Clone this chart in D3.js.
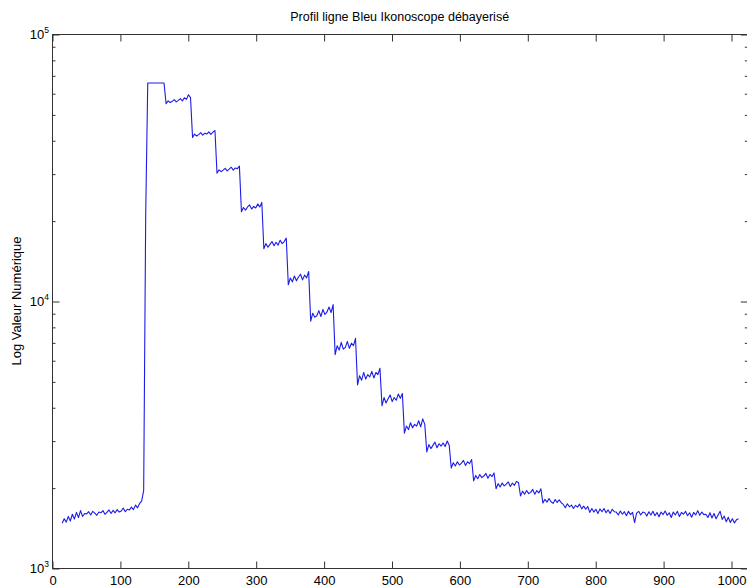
<!DOCTYPE html>
<html>
<head>
<meta charset="utf-8">
<script src="https://cdn.jsdelivr.net/npm/d3@7"></script>
<style>
  body { margin: 0; background: #fff; }
  svg { display: block; }
  text { font-family: "Liberation Sans", Arial, Helvetica, sans-serif; fill: #000; }
</style>
</head>
<body>
<svg id="chart" width="747" height="586"></svg>
<script>
// Texts
const titleText = "Profil ligne Bleu Ikonoscope débayerisé";
const yLabelText = "Log Valeur Numérique";

// Tick values
const xTicks = [0, 100, 200, 300, 400, 500, 600, 700, 800, 900, 1000];
const yMajor = [1e3, 1e4, 1e5];
const yMinor = [2e3, 3e3, 4e3, 5e3, 6e3, 7e3, 8e3, 9e3, 2e4, 3e4, 4e4, 5e4, 6e4, 7e4, 8e4, 9e4];
const yExponents = ["3", "4", "5"];

// Blue-channel line profile, one sample every 3 pixels starting at pixel 15
const profileStart = 15;
const profileStep = 3;
const blueProfile = [
  // dark level before the grey wedge (15 .. 132)
  1470, 1530, 1485, 1560, 1500, 1590, 1525, 1615, 1545, 1640,
  1560, 1600, 1595, 1625, 1580, 1630, 1605, 1575, 1620, 1610,
  1640, 1590, 1615, 1650, 1600, 1645, 1610, 1655, 1620, 1635,
  1675, 1625, 1660, 1650, 1690, 1655, 1720, 1680, 1745, 1780,
  // rising edge (135, 138)
  1950, 21000,
  // saturated patch (141 .. 165)
  65535, 65535, 65535, 65535, 65535, 65535, 65535, 65535, 65535,
  // patch 2 (168 .. 204)
  54800, 56200, 55400, 55900, 56800, 55700, 56400, 57300, 56200, 57700, 56900, 59200, 57800,
  // patch 3 (207 .. 240)
  41000, 42200, 41500, 42000, 42700, 41800, 42500, 42200, 43000, 42100, 42900, 43500,
  // patch 4 (243 .. 276)
  30100, 31000, 30500, 30900, 31400, 30700, 31200, 31700, 30900, 31500, 31300, 32000,
  // patch 5 (279 .. 309)
  21600, 22400, 21900, 22500, 22900, 22100, 22600, 22300, 23100, 22500, 23400,
  // patch 6 (312 .. 345)
  15700, 16400, 15900, 16300, 16700, 16100, 16600, 16200, 16900, 16400, 16700, 17200,
  // patch 7 (348 .. 378)
  11500, 12200, 11800, 12400, 11900, 12300, 12600, 12000, 12500, 12200, 12900,
  // patch 8 (381 .. 414)
  8400, 9000, 8700, 8800, 9200, 8750, 9300, 8900, 9100, 9500, 9050, 9700,
  // patch 9 (417 .. 447)
  6300, 6800, 6550, 7000, 6600, 6700, 7050, 6650, 6950, 6800, 7250,
  // patch 10 (450 .. 483)
  4850, 5250, 5050, 5400, 5100, 5300, 5200, 5450, 5150, 5400, 5300, 5600,
  // patch 11 (486 .. 516)
  4050, 4350, 4150, 4300, 4450, 4200, 4350, 4250, 4480, 4320, 4500,
  // patch 12 (519 .. 549)
  3200, 3400, 3300, 3500, 3350, 3450, 3400, 3560, 3380, 3620, 3450,
  // patch 13 (552 .. 585)
  2720, 2900, 2800, 2880, 2960, 2820, 2920, 2860, 2940, 2850, 2990, 2880,
  // patch 14 (588 .. 618)
  2370, 2480, 2410, 2500, 2430, 2470, 2530, 2420, 2500, 2460, 2550,
  // patch 15 (621 .. 651)
  2120, 2220, 2160, 2240, 2180, 2210, 2260, 2170, 2240, 2200, 2270,
  // patch 16 (654 .. 687)
  1980, 2070, 2010, 2080, 2030, 2060, 2100, 2020, 2080, 2040, 2110, 2090,
  // patch 17 (690 .. 720)
  1860, 1940, 1890, 1950, 1900, 1920, 1970, 1890, 1950, 1910, 1980,
  // tail (723 .. 1011)
  1750, 1810, 1765, 1820, 1770, 1745, 1805, 1760, 1800, 1755,
  1730, 1680, 1740, 1695, 1720, 1670, 1715, 1690, 1735, 1665, 1705, 1660, 1700,
  1615, 1670, 1620, 1660, 1600, 1665, 1625, 1670, 1610, 1650, 1600, 1660, 1625,
  1620, 1580, 1635, 1590, 1625, 1570, 1630, 1585, 1615, 1480, 1605, 1630, 1580, 1620,
  1610, 1565, 1625, 1580, 1630, 1570, 1615, 1555, 1620, 1585,
  1635, 1575, 1610, 1545, 1620, 1580, 1630, 1560, 1615, 1590,
  1630, 1570, 1610, 1550, 1615, 1580, 1640, 1575, 1620, 1585,
  1590, 1545, 1610, 1540, 1600, 1530, 1580, 1630, 1520, 1565,
  1490, 1550, 1480, 1530, 1475, 1515, 1530
];

const plot = { left: 52, right: 747.3, top: 34, bottom: 568 };

const svg = d3.select("#chart");

const x = d3.scaleLinear().domain([0, 1024]).range([plot.left, plot.right]);
const y = d3.scaleLog().domain([1e3, 1e5]).range([plot.bottom, plot.top]);

const axisColor = "#333";

// Frame
svg.append("rect")
  .attr("x", plot.left + 0.5).attr("y", plot.top + 0.5)
  .attr("width", plot.right - plot.left).attr("height", plot.bottom - plot.top)
  .attr("fill", "none").attr("stroke", axisColor).attr("stroke-width", 1);

function styleAxis(g) {
  g.select(".domain").remove();
  g.selectAll(".tick line").attr("stroke", axisColor).attr("stroke-width", 1);
  g.selectAll("text").attr("fill", "#000");
}

// Bottom axis with labels, ticks pointing inward
svg.append("g")
  .attr("transform", `translate(0.5,${plot.bottom + 0.5})`)
  .call(d3.axisBottom(x).tickValues(xTicks).tickSize(-7).tickPadding(7).tickFormat(d3.format("d")))
  .call(styleAxis)
  .call(g => g.selectAll("text").style("font-size", "13px"));

// Top axis, ticks only
svg.append("g")
  .attr("transform", `translate(0.5,${plot.top + 0.5})`)
  .call(d3.axisTop(x).tickValues(xTicks).tickSize(-7).tickFormat(""))
  .call(styleAxis);

// Left axis: major and minor ticks
svg.append("g")
  .attr("transform", `translate(${plot.left + 0.5},0.5)`)
  .call(d3.axisLeft(y).tickValues(yMajor).tickSize(-7).tickFormat(""))
  .call(styleAxis);
svg.append("g")
  .attr("transform", `translate(${plot.left + 0.5},0.5)`)
  .call(d3.axisLeft(y).tickValues(yMinor).tickSize(-3).tickFormat(""))
  .call(styleAxis);

// Right axis: major and minor ticks
svg.append("g")
  .attr("transform", `translate(${plot.right + 0.5},0.5)`)
  .call(d3.axisRight(y).tickValues(yMajor).tickSize(-7).tickFormat(""))
  .call(styleAxis);
svg.append("g")
  .attr("transform", `translate(${plot.right + 0.5},0.5)`)
  .call(d3.axisRight(y).tickValues(yMinor).tickSize(-3).tickFormat(""))
  .call(styleAxis);

// Power-of-ten labels on the left
const yLab = svg.append("g").selectAll("text")
  .data(yMajor)
  .join("text")
  .attr("x", plot.left - 3)
  .attr("y", d => y(d) + 5)
  .attr("text-anchor", "end")
  .style("font-size", "13px");
yLab.append("tspan").text("10");
yLab.append("tspan")
  .attr("dy", -6)
  .style("font-size", "8.5px")
  .text((d, i) => yExponents[i]);

// Profile line
const line = d3.line()
  .x((d, i) => x(profileStart + i * profileStep))
  .y(d => y(d));

svg.append("path")
  .datum(blueProfile)
  .attr("d", line)
  .attr("fill", "none")
  .attr("stroke", "#1c1ce8")
  .attr("stroke-width", 1.1)
  .attr("stroke-linejoin", "round");

// Title
svg.append("text")
  .attr("x", (plot.left + plot.right) / 2)
  .attr("y", 21)
  .attr("text-anchor", "middle")
  .style("font-size", "12.5px")
  .text(titleText);

// Y label
svg.append("text")
  .attr("transform", `translate(21,${(plot.top + plot.bottom) / 2}) rotate(-90)`)
  .attr("text-anchor", "middle")
  .style("font-size", "13px")
  .text(yLabelText);
</script>
</body>
</html>
